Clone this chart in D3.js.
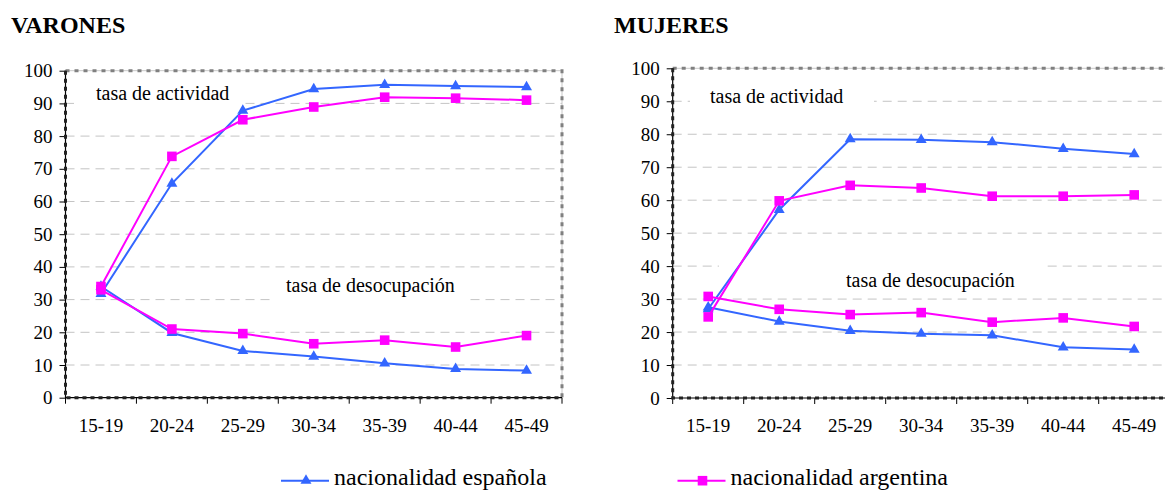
<!DOCTYPE html>
<html>
<head>
<meta charset="utf-8">
<script src="https://cdn.jsdelivr.net/npm/d3@7"></script>
<style>
  body { margin: 0; background: #fff; overflow: hidden; }
  svg text { font-family: "Liberation Serif", "Times New Roman", Times, "DejaVu Serif", "Noto Serif", serif !important; fill: #000; }
</style>
</head>
<body>
<svg id="chart" width="1165" height="490"></svg>
<script>
const categories = ['15-19', '20-24', '25-29', '30-34', '35-39', '40-44', '45-49']
const yTicks = [0, 10, 20, 30, 40, 50, 60, 70, 80, 90, 100]

// VARONES
const varonesEspActividad = [31.8, 65.5, 87.8, 94.4, 95.7, 95.3, 95.0]
const varonesArgActividad = [34.0, 73.8, 85.0, 88.9, 91.9, 91.6, 91.0]
const varonesEspDesocupacion = [34.0, 19.8, 14.3, 12.6, 10.5, 8.8, 8.3]
const varonesArgDesocupacion = [33.0, 21.0, 19.6, 16.5, 17.6, 15.5, 19.0]

// MUJERES
const mujeresEspActividad = [27.0, 57.1, 78.5, 78.3, 77.6, 75.6, 74.0]
const mujeresArgActividad = [24.6, 59.8, 64.5, 63.7, 61.2, 61.2, 61.6]
const mujeresEspDesocupacion = [27.5, 23.2, 20.4, 19.5, 19.0, 15.4, 14.7]
const mujeresArgDesocupacion = [30.8, 26.9, 25.3, 25.9, 23.0, 24.3, 21.7]

const legendNames = ['nacionalidad española', 'nacionalidad argentina']

const BLUE = '#3366ff'
const MAGENTA = '#ff00ff'
const triangle = d3.symbol().type(d3.symbolTriangle).size(52)
const square = d3.symbol().type(d3.symbolSquare).size(92)

const svg = d3.select('#chart')

const drawPanel = (p) => {
  const x = d3.scaleBand()
    .domain(categories)
    .range([p.left, p.right])

  const y = d3.scaleLinear()
    .domain([0, 100])
    .range([p.bottom, p.top])

  const g = svg.append('g')

  // title
  g.append('text')
    .attr('x', p.titleX)
    .attr('y', 33)
    .style('font-size', '24px')
    .style('font-weight', 'bold')
    .text(p.title)

  // gridlines
  g.selectAll('.grid')
    .data(yTicks.filter(d => d > 0 && d < 100))
    .enter()
    .append('line')
    .attr('class', 'grid')
    .attr('x1', x.range()[0])
    .attr('x2', x.range()[1])
    .attr('y1', d => y(d))
    .attr('y2', d => y(d))
    .attr('stroke', '#c4c4c4')
    .attr('stroke-width', 1)
    .attr('stroke-dasharray', '9,6')

  // top and right border
  const border = `M${x.range()[0]},${y(100)}H${x.range()[1]}V${y(0)}`
  g.append('path')
    .attr('d', border)
    .attr('fill', 'none')
    .attr('stroke', '#c8c8c8')
    .attr('stroke-width', 1)
  g.append('path')
    .attr('d', border)
    .attr('fill', 'none')
    .attr('stroke', '#808080')
    .attr('stroke-width', 3)
    .attr('stroke-dasharray', '4,5')

  // annotation boxes hide the gridlines behind the labels
  p.notes.forEach(n => {
    g.append('rect')
      .attr('x', n.box[0])
      .attr('y', n.box[1])
      .attr('width', n.box[2] - n.box[0])
      .attr('height', n.box[3] - n.box[1])
      .attr('fill', '#fff')
    g.append('text')
      .attr('x', n.x)
      .attr('y', n.y)
      .style('font-size', '20px')
      .text(n.text)
  })

  // y axis
  const yAxis = d3.axisLeft(y)
    .tickValues(yTicks)
    .tickSize(6)
    .tickPadding(7)
  const ya = g.append('g')
    .attr('transform', 'translate(' + x.range()[0] + ',0)')
    .call(yAxis)
  ya.attr('font-family', null)
  ya.select('.domain').remove()
  ya.selectAll('text').style('font-size', '19px')
  ya.selectAll('line').attr('stroke', '#000')

  // x axis labels
  const xAxis = d3.axisBottom(x)
    .tickSize(0)
    .tickPadding(21)
  const xa = g.append('g')
    .attr('transform', 'translate(0,' + y(0) + ')')
    .call(xAxis)
  xa.attr('font-family', null)
  xa.select('.domain').remove()
  xa.selectAll('text').style('font-size', '19px')

  // x ticks at band boundaries
  const bounds = categories.map(c => x(c)).concat([x.range()[1]])
  g.selectAll('.xtick')
    .data(bounds)
    .enter()
    .append('line')
    .attr('class', 'xtick')
    .attr('x1', d => d)
    .attr('x2', d => d)
    .attr('y1', y(0))
    .attr('y2', y(0) + 6)
    .attr('stroke', '#000')

  // axis lines: thin black line with dark dashes over it
  const axisPath = `M${x.range()[0]},${y(100)}V${y(0)}H${x.range()[1]}`
  g.append('path')
    .attr('d', axisPath)
    .attr('fill', 'none')
    .attr('stroke', '#000')
    .attr('stroke-width', 1.2)
  g.append('path')
    .attr('d', axisPath)
    .attr('fill', 'none')
    .attr('stroke', '#222')
    .attr('stroke-width', 3)
    .attr('stroke-dasharray', '4,4')

  // series
  const line = d3.line()
    .x((d, i) => x(categories[i]) + x.bandwidth() / 2)
    .y(d => y(d))

  p.series.forEach(s => {
    g.append('path')
      .datum(s.values)
      .attr('d', line)
      .attr('fill', 'none')
      .attr('stroke', s.color)
      .attr('stroke-width', 2)

    g.selectAll(null)
      .data(s.values)
      .enter()
      .append('path')
      .attr('d', s.symbol)
      .attr('transform', (d, i) => 'translate(' + (x(categories[i]) + x.bandwidth() / 2) + ',' + y(d) + ')')
      .attr('fill', s.color)
  })
}

drawPanel({
  title: 'VARONES',
  titleX: 11,
  left: 65.5,
  right: 562,
  top: 70.7,
  bottom: 397.7,
  notes: [
    {text: 'tasa de actividad', x: 96, y: 99.5, box: [74, 80, 240, 110]},
    {text: 'tasa de desocupación', x: 286, y: 291.7, box: [273, 271, 467, 304]}
  ],
  series: [
    {values: varonesEspActividad, color: BLUE, symbol: triangle},
    {values: varonesEspDesocupacion, color: BLUE, symbol: triangle},
    {values: varonesArgActividad, color: MAGENTA, symbol: square},
    {values: varonesArgDesocupacion, color: MAGENTA, symbol: square}
  ]
})

drawPanel({
  title: 'MUJERES',
  titleX: 614,
  left: 672.7,
  right: 1169.7,
  top: 68.3,
  bottom: 398,
  notes: [
    {text: 'tasa de actividad', x: 710, y: 103.3, box: [690, 84, 874, 112]},
    {text: 'tasa de desocupación', x: 846, y: 287.3, box: [719, 259, 1047, 295]}
  ],
  series: [
    {values: mujeresEspActividad, color: BLUE, symbol: triangle},
    {values: mujeresEspDesocupacion, color: BLUE, symbol: triangle},
    {values: mujeresArgActividad, color: MAGENTA, symbol: square},
    {values: mujeresArgDesocupacion, color: MAGENTA, symbol: square}
  ]
})

// legend
const legendItems = [
  {name: legendNames[0], color: BLUE, symbol: triangle, x: 281},
  {name: legendNames[1], color: MAGENTA, symbol: square, x: 677.5}
]
const lg = svg.selectAll('.legend')
  .data(legendItems)
  .enter()
  .append('g')
  .attr('class', 'legend')
  .attr('transform', d => 'translate(' + d.x + ',480.7)')

lg.append('line')
  .attr('x1', 0)
  .attr('x2', 48)
  .attr('stroke', d => d.color)
  .attr('stroke-width', 2)
lg.append('path')
  .attr('d', d => d.symbol())
  .attr('transform', 'translate(25,0)')
  .attr('fill', d => d.color)
lg.append('text')
  .attr('x', 53)
  .attr('y', 4.5)
  .style('font-size', '24px')
  .text(d => d.name)
</script>
</body>
</html>
